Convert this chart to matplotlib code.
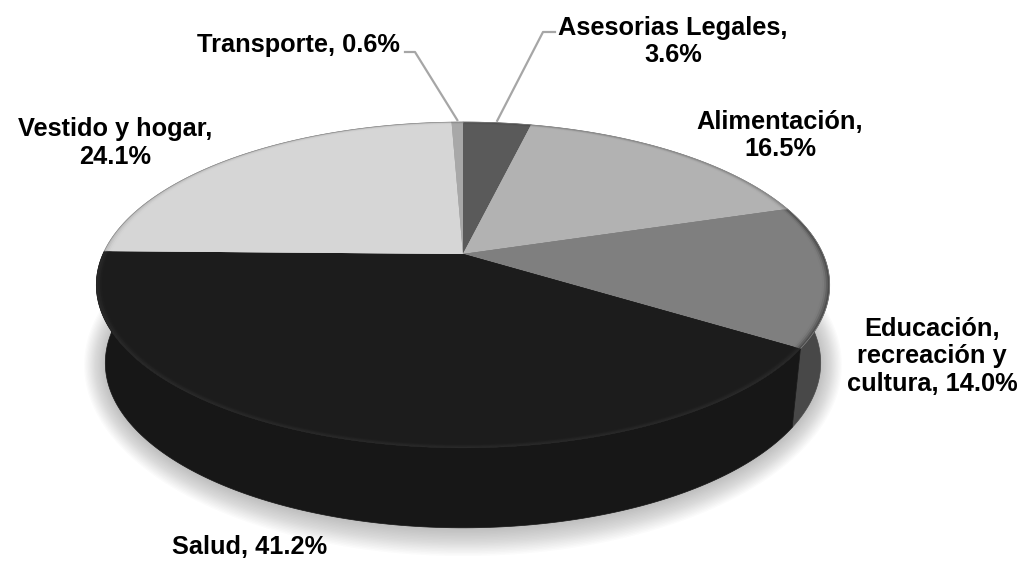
import numpy as np
import matplotlib
matplotlib.use("Agg")
import matplotlib.pyplot as plt

categories = ["Asesorias Legales", "Alimentación", "Educación, recreación y cultura",
              "Salud", "Vestido y hogar", "Transporte"]
values = [3.6, 16.5, 14.0, 41.2, 24.1, 0.6]
labels = ["Asesorias Legales,\n3.6%", "Alimentación,\n16.5%", "Educación,\nrecreación y\ncultura, 14.0%",
          "Salud, 41.2%", "Vestido y hogar,\n24.1%", "Transporte, 0.6%"]
top_colors = ["#5a5a5a", "#b2b2b2", "#7f7f7f", "#1c1c1c", "#d6d6d6", "#a8a8a8"]
side_colors = ["#404040", "#808080", "#484848", "#171717", "#9a9a9a", "#787878"]
rim_colors = ["#4a4a4a", "#8c8c8c", "#4e4e4e", "#282828", "#bcbcbc", "#909090"]
label_pos = [(673, 41.5), (780, 135.5), (932, 356.5), (249.5, 547), (115, 143), (298, 45)]

# Projection of the unit disc to the picture
CX, CY, A, B, K = 463.0, 254.0, 360.0, 157.0, 0.19
E_CY, BOT_CY, SX, SY = 285.0, 363.0, 358.0 / 367.0, 165.0 / 163.0


def top(theta, r=1.0):
    u, v = r * np.sin(theta), r * np.cos(theta)
    d = 1 + K * v
    return CX + A * u / d, CY - B * v / d


def bottom(theta):
    x, y = top(theta)
    return CX + (x - CX) * SX, BOT_CY + (y - E_CY) * SY


fig = plt.figure(figsize=(10.23, 5.62), dpi=100)
ax = fig.add_axes([0, 0, 1, 1])
ax.set_xlim(0, 1023)
ax.set_ylim(562, 0)
ax.axis("off")

total = sum(values)
edges = 2 * np.pi * np.concatenate([[0], np.cumsum(values)]) / total

# soft shadow below the disc
t = np.linspace(0, 2 * np.pi, 300)
for grow in np.linspace(26, 0, 18):
    ax.fill(CX + (358 + grow * 0.8) * np.sin(t), 365 + (165 + grow) * np.cos(t),
            color="#707070", alpha=0.028, lw=0, zorder=1)

# sides, rear slices first and Salud last
order = [4, 5, 0, 1, 2, 3]
for z, i in enumerate(order):
    th = np.linspace(edges[i], edges[i + 1], 160)
    xt, yt = top(th)
    xb, yb = bottom(th)
    ax.fill(np.r_[xt, xb[::-1]], np.r_[yt, yb[::-1]], color=side_colors[i], lw=0.5,
            ec=side_colors[i], zorder=2 + z * 0.01)

# top surfaces with a rounded rim
for i in range(len(values)):
    th = np.linspace(edges[i], edges[i + 1], 160)
    xt, yt = top(th)
    ax.fill(np.r_[CX, xt], np.r_[CY, yt], color=rim_colors[i], lw=0.4,
            ec="#8a8a8a" if i != 3 else "#222222", zorder=3)
    rs = [0.995, 0.99, 0.985, 0.98]
    for r, a in zip(rs, [0.4, 0.6, 0.8, 1.0]):
        xr, yr = top(th, r)
        ax.fill(np.r_[CX, xr], np.r_[CY, yr], color=top_colors[i], alpha=a, lw=0, zorder=3.1)

# leader lines
mids = (edges[:-1] + edges[1:]) / 2
for idx, (lx, ly, dx) in {0: (555, 32, -12), 5: (405, 52, 10)}.items():
    mx, my = top(mids[idx])
    ax.plot([lx, lx + dx, mx], [ly, ly, my - 2], color="#a6a6a6", lw=1.6, zorder=4)

for s, (x, y) in zip(labels, label_pos):
    ax.text(x, y, s, ha="center", va="center", family="Liberation Sans", fontweight="bold",
            fontsize=18.3, color="black", linespacing=1.17, zorder=5)

fig.savefig("out.png", dpi=100)
